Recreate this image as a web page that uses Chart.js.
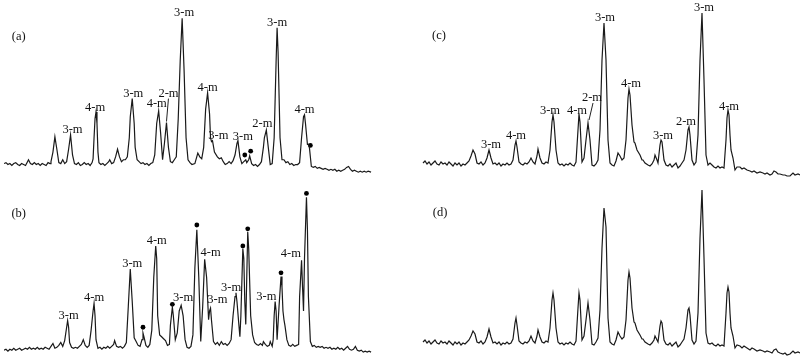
<!DOCTYPE html>
<html>
<head>
<meta charset="utf-8">
<script src="https://cdn.jsdelivr.net/npm/chart.js@4.4.0/dist/chart.umd.min.js"></script>
<style>
  body { margin: 0; background: #fff; }
  #wrap { position: relative; width: 800px; height: 358px; overflow: hidden; }
  .panel { position: absolute; width: 378px; height: 180px; }
</style>
</head>
<body>
<div id="wrap">
  <div class="panel" style="left:0;top:0"><canvas id="chart-a" width="378" height="180"></canvas></div>
  <div class="panel" style="left:0;top:178px"><canvas id="chart-b" width="378" height="180"></canvas></div>
  <div class="panel" style="left:422px;top:0"><canvas id="chart-c" width="378" height="180"></canvas></div>
  <div class="panel" style="left:422px;top:178px"><canvas id="chart-d" width="378" height="180"></canvas></div>
</div>
<script>
// traces: [position, intensity]
const traceA = [[0,13],[2,14],[4,12],[6,13],[8,11],[10,13],[12,14],[14,12],[16,11],[18,13],[20,12],[22,11],[24,15],[25,17],[27,13],[29,12],[31,14],[33,12],[35,13],[37,11],[39,13],[41,12],[43,11],[45,14],[47,13],[48,15],[50,25],[52,41],[54,28],[56,14],[58,13],[60,17],[62,13],[64,15],[66,28],[68,43],[70,22],[72,13],[74,12],[76,14],[78,11],[80,12],[82,14],[84,12],[86,13],[88,11],[90,14],[91,18],[92,40],[93,60],[94,67],[95,55],[96,25],[97,14],[99,12],[101,13],[103,11],[105,13],[107,15],[108,17],[110,13],[112,14],[114,20],[116,28],[118,20],[120,15],[122,17],[124,17],[126,20],[128,40],[129,62],[131,81],[133,55],[134,30],[136,17],[138,15],[140,13],[142,14],[144,12],[146,13],[148,11],[150,13],[152,14],[154,22],[156,55],[158,68],[160,45],[162,17],[164,35],[166,56],[168,30],[170,15],[172,14],[174,17],[176,20],[178,60],[180,120],[182,165],[184,110],[186,40],[188,17],[190,14],[192,12],[195,13],[198,24],[200,20],[202,18],[204,30],[206,70],[208,87],[210,65],[211,40],[212,36],[213,37],[215,25],[218,20],[220,18],[222,19],[224,15],[226,12],[228,13],[230,15],[232,13],[234,16],[236,22],[238,34],[239,37],[241,20],[243,13],[245,15],[247,17],[248,14],[250,17],[251,21],[253,13],[255,11],[257,12],[259,10],[261,12],[263,15],[265,30],[266,40],[268,48],[270,30],[272,12],[274,13],[276,40],[278,120],[279,155],[280,130],[282,40],[284,17],[286,17],[288,14],[290,15],[292,12],[294,13],[296,11],[298,12],[300,12],[302,14],[304,40],[306,62],[307,64],[308,55],[310,33],[311,33],[312,30],[314,10],[316,9],[318,10],[320,8],[322,9],[324,8],[326,7],[328,8],[330,7],[332,6],[334,7],[336,6],[338,7],[340,5],[342,6],[344,5],[346,6],[348,7],[350,9],[352,10],[354,7],[356,5],[358,6],[360,5],[362,4],[364,5],[366,4],[368,5],[370,4],[372,5],[375,4]];

const traceB = [[0,4],[2,5],[4,3],[6,5],[8,4],[10,6],[12,4],[14,5],[16,6],[18,4],[20,5],[22,6],[24,5],[26,7],[28,5],[30,6],[32,5],[34,7],[36,5],[38,6],[40,5],[42,7],[44,6],[46,5],[48,8],[50,11],[52,6],[54,7],[56,9],[58,12],[60,8],[62,14],[64,28],[65,35],[66,28],[67,12],[69,7],[71,6],[73,7],[75,6],[77,8],[79,10],[81,15],[83,9],[85,7],[87,9],[89,25],[91,45],[92,53],[93,40],[94,15],[96,6],[98,7],[100,5],[102,7],[104,6],[106,8],[108,6],[110,8],[112,10],[113,14],[115,8],[117,7],[119,8],[121,6],[123,8],[125,12],[127,50],[129,89],[131,55],[133,17],[135,13],[137,9],[139,8],[141,15],[142,22],[143,18],[145,9],[147,7],[149,10],[151,25],[153,80],[155,113],[156,100],[157,40],[159,20],[161,18],[163,16],[165,14],[167,9],[169,10],[170,30],[172,49],[173,40],[175,15],[177,22],[179,45],[181,51],[183,40],[185,15],[187,7],[189,6],[191,8],[193,20],[195,90],[197,130],[199,80],[201,13],[203,50],[205,99],[207,80],[209,36],[210,45],[211,48],[212,35],[214,13],[216,10],[218,12],[220,9],[222,13],[224,10],[226,11],[228,9],[230,11],[232,15],[234,40],[236,60],[237,64],[238,55],[240,30],[241,18],[242,40],[244,110],[245,100],[246,55],[247,31],[248,80],[249,128],[250,110],[252,40],[254,20],[256,12],[258,10],[260,9],[262,11],[264,9],[265,13],[267,10],[269,8],[271,9],[272,13],[274,8],[275,15],[276,40],[277,55],[278,45],[279,15],[281,50],[283,81],[284,70],[285,45],[286,36],[287,30],[289,15],[291,9],[293,8],[295,10],[297,8],[299,9],[301,10],[302,60],[304,98],[305,70],[306,45],[307,100],[309,164],[310,130],[311,60],[313,13],[315,8],[317,9],[319,7],[321,8],[323,7],[325,8],[327,6],[329,7],[331,6],[333,7],[335,5],[337,6],[339,5],[341,7],[343,5],[345,6],[347,4],[349,6],[351,8],[353,5],[355,4],[357,5],[359,8],[361,4],[363,3],[365,4],[367,2],[369,3],[371,2],[373,3],[375,2]];

const traceC = [[1,17],[3,19],[5,16],[7,18],[9,15],[11,17],[13,19],[15,16],[17,15],[19,18],[21,16],[23,17],[25,15],[27,18],[29,16],[31,14],[33,17],[35,15],[37,17],[39,14],[41,16],[43,15],[45,17],[47,19],[49,24],[51,30],[53,26],[55,17],[57,16],[59,18],[61,15],[63,17],[65,22],[67,30],[69,22],[71,16],[73,17],[75,15],[77,17],[79,14],[81,16],[83,15],[85,17],[87,15],[89,16],[91,20],[93,35],[94,39],[95,33],[97,18],[99,16],[101,15],[103,17],[105,16],[107,18],[109,22],[111,18],[113,16],[115,24],[116,31],[118,22],[120,17],[122,16],[124,18],[126,17],[128,30],[130,58],[131,65],[132,58],[134,30],[136,17],[138,15],[140,16],[142,14],[144,16],[146,15],[148,17],[150,15],[152,14],[154,18],[156,50],[157,66],[158,58],[160,18],[162,22],[164,40],[166,57],[168,40],[170,15],[172,14],[174,16],[176,20],[178,50],[180,120],[182,157],[184,120],[186,40],[188,17],[190,15],[192,14],[194,19],[196,27],[198,24],[200,20],[202,22],[204,40],[206,82],[207,91],[208,85],[210,55],[212,38],[213,37],[215,30],[218,25],[220,20],[221,20],[223,17],[226,15],[228,14],[230,16],[232,20],[233,25],[235,20],[236,17],[238,35],[239,40],[240,38],[242,20],[244,15],[246,14],[248,16],[250,13],[252,15],[254,17],[256,12],[258,14],[260,17],[262,20],[264,30],[266,50],[267,53],[268,45],[270,20],[272,15],[274,18],[276,45],[278,120],[280,167],[282,100],[284,25],[286,15],[288,17],[290,15],[292,13],[294,12],[296,14],[298,12],[300,13],[302,12],[304,40],[305,62],[306,70],[307,65],[308,45],[309,30],[311,22],[313,10],[315,13],[318,13],[320,11],[322,12],[325,10],[328,9],[330,8],[332,9],[335,7],[338,8],[341,7],[343,6],[345,7],[348,5],[350,6],[352,9],[354,8],[356,6],[358,6],[361,5],[363,5],[365,4],[368,4],[371,7],[373,5],[376,6],[378,5]];

const traceD = [[1,16],[3,18],[5,15],[7,17],[9,14],[11,16],[13,18],[15,15],[17,14],[19,17],[21,15],[23,16],[25,14],[27,17],[29,15],[31,13],[33,16],[35,14],[37,16],[39,13],[41,15],[43,14],[45,16],[47,18],[49,22],[51,27],[53,24],[55,16],[57,15],[59,17],[61,14],[63,16],[65,21],[67,29],[69,21],[71,15],[73,16],[75,14],[77,16],[79,13],[81,15],[83,14],[85,16],[87,14],[89,15],[91,19],[93,35],[94,40],[95,33],[97,17],[99,15],[101,14],[103,16],[105,15],[107,17],[109,22],[111,17],[113,15],[115,22],[116,28],[118,21],[120,16],[122,15],[124,17],[126,16],[128,30],[130,58],[131,65],[132,58],[134,30],[136,16],[138,14],[140,15],[142,13],[144,15],[146,14],[148,16],[150,14],[152,13],[154,17],[156,50],[157,65],[158,58],[160,18],[162,22],[164,38],[166,55],[168,38],[170,14],[172,13],[174,16],[176,20],[178,48],[180,110],[182,150],[184,131],[186,40],[188,16],[190,14],[192,13],[194,18],[196,26],[198,22],[200,19],[202,21],[204,38],[206,78],[207,86],[208,80],[210,50],[212,36],[213,35],[215,28],[218,23],[220,19],[221,19],[223,16],[226,14],[228,13],[230,15],[232,18],[233,22],[235,18],[236,16],[238,32],[239,37],[240,35],[242,18],[244,14],[246,13],[248,15],[250,12],[252,14],[254,16],[256,11],[258,13],[260,16],[262,19],[264,30],[266,48],[267,50],[268,43],[270,18],[272,14],[274,17],[276,45],[278,120],[280,168],[282,100],[284,25],[286,15],[288,14],[290,15],[292,13],[294,12],[296,14],[298,12],[300,13],[302,12],[304,45],[305,65],[306,71],[307,66],[308,45],[309,30],[311,22],[313,10],[315,13],[318,12],[320,10],[322,12],[325,10],[328,8],[330,10],[332,9],[335,7],[338,8],[341,7],[343,6],[345,7],[348,6],[350,5],[352,8],[354,9],[356,6],[358,5],[361,4],[363,5],[365,3],[368,4],[371,7],[373,5],[376,6],[378,5]];

// peak assignments: [position, intensity, text]
const labelsA = [[70,45,'3-m'],[93,68,'4-m'],[132,83,'3-m'],[156,72,'4-m'],[168,83,'2-m'],[184,167,'3-m'],[208,89,'4-m'],[219,39,'3-m'],[244,38,'3-m'],[264,51,'2-m'],[279,157,'3-m'],[307,66,'4-m']];
const labelsB = [[66,37,'3-m'],[92,55,'4-m'],[131,91,'3-m'],[156,115,'4-m'],[183,55,'3-m'],[211,103,'4-m'],[218,53,'3-m'],[232,66,'3-m'],[268,57,'3-m'],[293,101,'4-m']];
const labelsC = [[69,32,'3-m'],[94,41,'4-m'],[128,66,'3-m'],[155,66,'4-m'],[170,79,'2-m'],[183,159,'3-m'],[209,93,'4-m'],[241,41,'3-m'],[264,55,'2-m'],[282,169,'3-m'],[307,70,'4-m']];
const labelsD = [];

// leader lines: [x1, y1, x2, y2]
const leadersA = [[168,81,166,57]];
const leadersC = [[171,77,167,60]];

// marked (•) peaks
const dotsA = [[246,22],[252,26],[313,32]];
const dotsB = [[142,28],[172,52],[197,135],[244,113],[249,131],[283,85],[309,168]];

function textPlugin(labels, leaders, tag) {
    return {
        id: 'peakText',
        afterDatasetsDraw: function(chart) {
            let ctx = chart.ctx;
            let xs = chart.scales.x, ys = chart.scales.y;
            ctx.save();
            ctx.fillStyle = '#111';
            ctx.strokeStyle = '#222';
            ctx.lineWidth = 1;
            ctx.font = '12.5px "Liberation Serif", "Times New Roman", serif';
            ctx.textAlign = 'center';
            ctx.textBaseline = 'alphabetic';
            labels.forEach(function(l) {
                ctx.fillText(l[2], xs.getPixelForValue(l[0]), ys.getPixelForValue(l[1]));
            });
            ctx.fillText(tag[2], xs.getPixelForValue(tag[0]), ys.getPixelForValue(tag[1]));
            leaders.forEach(function(s) {
                ctx.beginPath();
                ctx.moveTo(xs.getPixelForValue(s[0]), ys.getPixelForValue(s[1]));
                ctx.lineTo(xs.getPixelForValue(s[2]), ys.getPixelForValue(s[3]));
                ctx.stroke();
            });
            ctx.restore();
        }
    };
}

function toXY(arr) {
    return arr.map(function(p) { return {x: p[0], y: p[1]}; });
}

function makeChart(id, trace, dots, labels, leaders, tag) {
    return new Chart(document.getElementById(id), {
        type: 'line',
        data: {
            datasets: [{
                data: toXY(trace),
                borderColor: '#1a1a1a',
                borderWidth: 1.2,
                pointRadius: 0,
                tension: 0,
                fill: false
            }, {
                data: toXY(dots),
                showLine: false,
                pointRadius: 2.4,
                pointBorderWidth: 0,
                pointBackgroundColor: '#000'
            }]
        },
        options: {
            responsive: false,
            animation: false,
            layout: { padding: 0 },
            plugins: { legend: { display: false }, tooltip: { enabled: false } },
            scales: {
                x: { type: 'linear', min: 0, max: 378, display: false },
                y: { min: 0, max: 180, display: false }
            }
        },
        plugins: [textPlugin(labels, leaders, tag)]
    });
}

makeChart('chart-a', traceA, dotsA, labelsA, leadersA, [15,142,'(a)']);
makeChart('chart-b', traceB, dotsB, labelsB, [], [15,143,'(b)']);
makeChart('chart-c', traceC, [], labelsC, leadersC, [17,141,'(c)']);
makeChart('chart-d', traceD, [], labelsD, [], [18,142,'(d)']);
</script>
</body>
</html>
